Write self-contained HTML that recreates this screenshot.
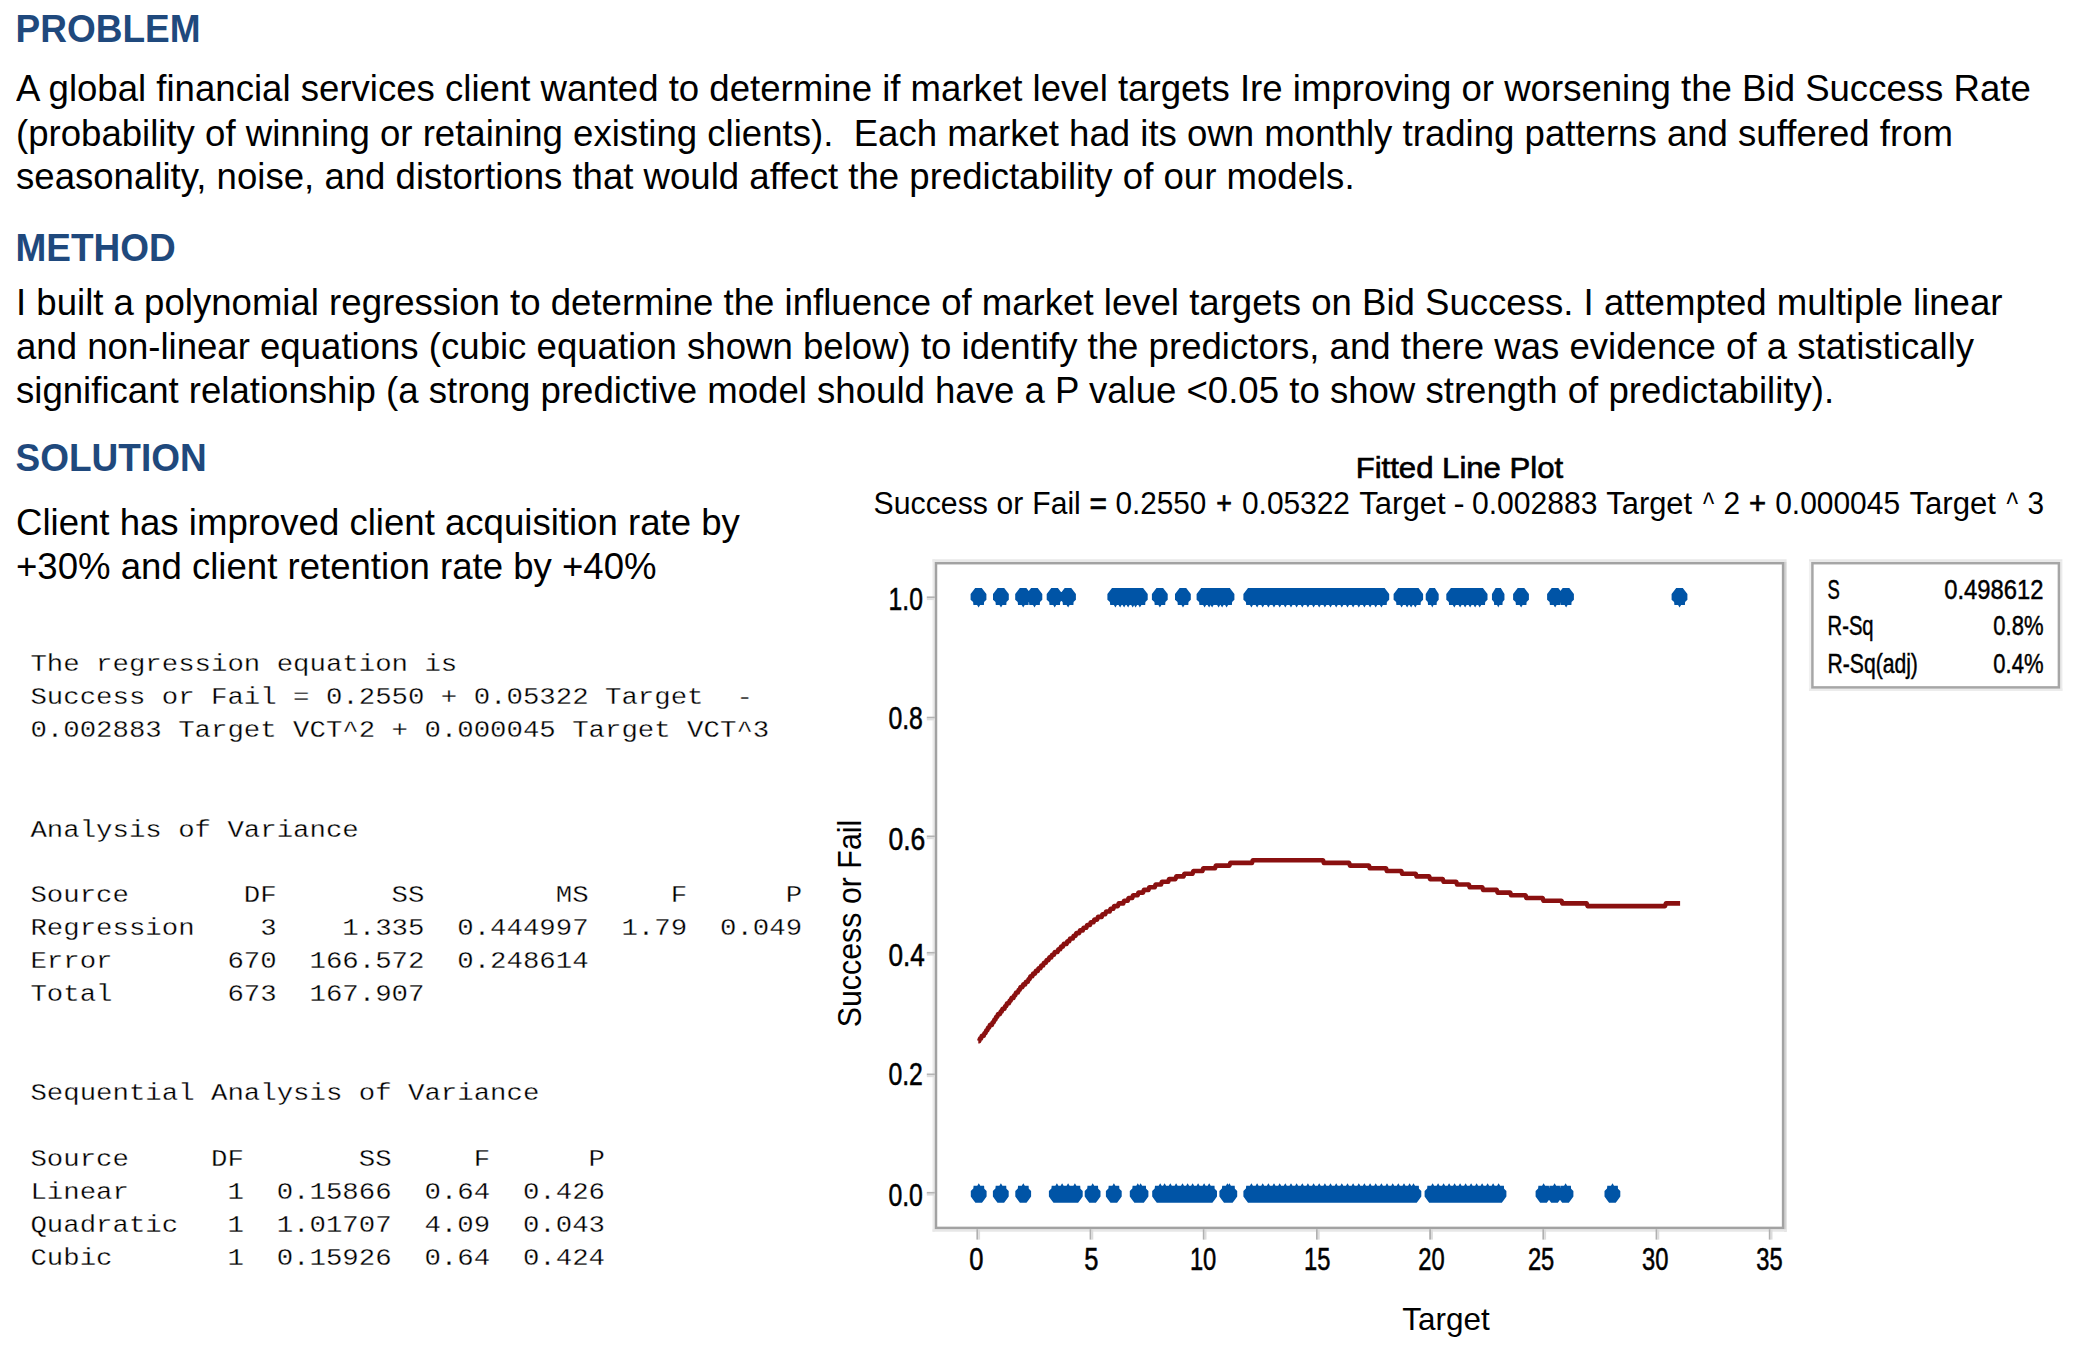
<!DOCTYPE html>
<html lang="en"><head><meta charset="utf-8"><title>Polynomial regression case study</title>
<style>
html,body{margin:0;padding:0;background:#fff;}
body{width:2077px;height:1355px;position:relative;overflow:hidden;font-family:"Liberation Sans", sans-serif;color:#000;}
.b,.h,.m{position:absolute;white-space:pre;margin:0;}
.b{line-height:44px;font-family:"Liberation Sans", sans-serif;color:#000;}
.h{line-height:44px;font-family:"Liberation Sans", sans-serif;font-weight:bold;color:#1f497d;}
.m{line-height:33px;font-family:"Liberation Mono", monospace;color:#000;-webkit-text-stroke:0.32px #fff;}
svg text.t{font-family:"Liberation Sans", sans-serif;fill:#000;}
</style></head><body>
<svg width="2077" height="1355" viewBox="0 0 2077 1355" style="position:absolute;left:0;top:0">
<path d="M932.5,560.5H1786.6" stroke="#e8e8e8" stroke-width="2.5" fill="none"/>
<path d="M933.7,559.3V1231.7" stroke="#ebebeb" stroke-width="2.4" fill="none"/>
<path d="M1785.4,561.8V1231.7" stroke="#d3d3d3" stroke-width="2.4" fill="none"/>
<path d="M932.5,1230.5H1786.6" stroke="#e7e7e7" stroke-width="2.5" fill="none"/>
<rect x="936.0" y="563.2" width="847.1" height="664.7" fill="#fff" stroke="#a2a2a2" stroke-width="2.5"/>
<path d="M1809,560.5H2062.4" stroke="#e8e8e8" stroke-width="2.5" fill="none"/>
<path d="M1810.1,561.8V690.8" stroke="#f1f1f1" stroke-width="2.4" fill="none"/>
<path d="M2061.2,561.8V690.8" stroke="#ebebeb" stroke-width="2.4" fill="none"/>
<path d="M1809,689.7H2062.4" stroke="#ececec" stroke-width="2.4" fill="none"/>
<rect x="1812.4" y="563.2" width="246.5" height="124.2" fill="#fff" stroke="#a6a6a6" stroke-width="2.5"/>
<rect x="926.8" y="596.4" width="8" height="1.8" fill="#b4b4b4"/>
<rect x="926.8" y="598.2" width="8" height="1.9" fill="#dedede"/>
<rect x="926.8" y="716.7" width="8" height="1.8" fill="#b4b4b4"/>
<rect x="926.8" y="718.5" width="8" height="1.9" fill="#dedede"/>
<rect x="926.8" y="835.5" width="8" height="1.8" fill="#b4b4b4"/>
<rect x="926.8" y="837.3" width="8" height="1.9" fill="#dedede"/>
<rect x="926.8" y="951.9" width="8" height="1.8" fill="#b4b4b4"/>
<rect x="926.8" y="953.7" width="8" height="1.9" fill="#dedede"/>
<rect x="926.8" y="1073.5" width="8" height="1.8" fill="#b4b4b4"/>
<rect x="926.8" y="1075.3" width="8" height="1.9" fill="#dedede"/>
<rect x="926.8" y="1191.9" width="8" height="1.8" fill="#b4b4b4"/>
<rect x="926.8" y="1193.7" width="8" height="1.9" fill="#dedede"/>
<rect x="976.4" y="1229.2" width="1.8" height="10.4" fill="#b0b0b0"/>
<rect x="978.2" y="1229.2" width="1.9" height="10.4" fill="#dcdcdc"/>
<rect x="1089.6" y="1229.2" width="1.8" height="10.4" fill="#b0b0b0"/>
<rect x="1091.4" y="1229.2" width="1.9" height="10.4" fill="#dcdcdc"/>
<rect x="1202.8" y="1229.2" width="1.8" height="10.4" fill="#b0b0b0"/>
<rect x="1204.6" y="1229.2" width="1.9" height="10.4" fill="#dcdcdc"/>
<rect x="1316.0" y="1229.2" width="1.8" height="10.4" fill="#b0b0b0"/>
<rect x="1317.8" y="1229.2" width="1.9" height="10.4" fill="#dcdcdc"/>
<rect x="1429.2" y="1229.2" width="1.8" height="10.4" fill="#b0b0b0"/>
<rect x="1431.0" y="1229.2" width="1.9" height="10.4" fill="#dcdcdc"/>
<rect x="1542.4" y="1229.2" width="1.8" height="10.4" fill="#b0b0b0"/>
<rect x="1544.2" y="1229.2" width="1.9" height="10.4" fill="#dcdcdc"/>
<rect x="1655.6" y="1229.2" width="1.8" height="10.4" fill="#b0b0b0"/>
<rect x="1657.4" y="1229.2" width="1.9" height="10.4" fill="#dcdcdc"/>
<rect x="1768.8" y="1229.2" width="1.8" height="10.4" fill="#b0b0b0"/>
<rect x="1770.6" y="1229.2" width="1.9" height="10.4" fill="#dcdcdc"/>
<text x="888.6" y="610.3" font-size="31.2" textLength="34.3" lengthAdjust="spacingAndGlyphs" class="t" stroke="#000" stroke-width="0.55">1.0</text>
<text x="888.4" y="729.0" font-size="31.2" textLength="34.5" lengthAdjust="spacingAndGlyphs" class="t" stroke="#000" stroke-width="0.55">0.8</text>
<text x="888.4" y="850.0" font-size="31.2" textLength="36.9" lengthAdjust="spacingAndGlyphs" class="t" stroke="#000" stroke-width="0.55">0.6</text>
<text x="888.4" y="966.4" font-size="31.2" textLength="36.3" lengthAdjust="spacingAndGlyphs" class="t" stroke="#000" stroke-width="0.55">0.4</text>
<text x="888.4" y="1084.7" font-size="31.2" textLength="34.5" lengthAdjust="spacingAndGlyphs" class="t" stroke="#000" stroke-width="0.55">0.2</text>
<text x="888.4" y="1205.8" font-size="31.2" textLength="34.5" lengthAdjust="spacingAndGlyphs" class="t" stroke="#000" stroke-width="0.55">0.0</text>
<text x="976.3" y="1270.3" font-size="31.2" text-anchor="middle" textLength="14.2" lengthAdjust="spacingAndGlyphs" class="t" stroke="#000" stroke-width="0.55">0</text>
<text x="1091.4" y="1270.3" font-size="31.2" text-anchor="middle" textLength="14.2" lengthAdjust="spacingAndGlyphs" class="t" stroke="#000" stroke-width="0.55">5</text>
<text x="1203.1" y="1270.3" font-size="31.2" text-anchor="middle" textLength="26.4" lengthAdjust="spacingAndGlyphs" class="t" stroke="#000" stroke-width="0.55">10</text>
<text x="1317.2" y="1270.3" font-size="31.2" text-anchor="middle" textLength="26.4" lengthAdjust="spacingAndGlyphs" class="t" stroke="#000" stroke-width="0.55">15</text>
<text x="1431.5" y="1270.3" font-size="31.2" text-anchor="middle" textLength="26.4" lengthAdjust="spacingAndGlyphs" class="t" stroke="#000" stroke-width="0.55">20</text>
<text x="1541.1" y="1270.3" font-size="31.2" text-anchor="middle" textLength="26.4" lengthAdjust="spacingAndGlyphs" class="t" stroke="#000" stroke-width="0.55">25</text>
<text x="1655.3" y="1270.3" font-size="31.2" text-anchor="middle" textLength="26.4" lengthAdjust="spacingAndGlyphs" class="t" stroke="#000" stroke-width="0.55">30</text>
<text x="1769.4" y="1270.3" font-size="31.2" text-anchor="middle" textLength="26.4" lengthAdjust="spacingAndGlyphs" class="t" stroke="#000" stroke-width="0.55">35</text>
<text x="1446" y="1330.2" font-size="32" text-anchor="middle" textLength="87.5" lengthAdjust="spacingAndGlyphs" class="t">Target</text>
<text transform="translate(861.0,923.5) rotate(-90)" font-size="32.6" text-anchor="middle" textLength="207.6" lengthAdjust="spacingAndGlyphs" class="t">Success or Fail</text>
<text x="1355.7" y="477.6" font-size="30.4" textLength="207.4" lengthAdjust="spacingAndGlyphs" class="t" stroke="#000" stroke-width="0.65">Fitted Line Plot</text>
<text y="514.3" font-size="31" class="t"><tspan x="873.6" textLength="114.3" lengthAdjust="spacingAndGlyphs">Success</tspan> <tspan x="996.6" textLength="26.7" lengthAdjust="spacingAndGlyphs">or</tspan> <tspan x="1032.3" textLength="48.5" lengthAdjust="spacingAndGlyphs">Fail</tspan> <tspan x="1089.4" textLength="17.5" lengthAdjust="spacingAndGlyphs" stroke="#000" stroke-width="0.7">=</tspan> <tspan x="1115.4" textLength="90.8" lengthAdjust="spacingAndGlyphs">0.2550</tspan> <tspan x="1216.3" textLength="15.7" lengthAdjust="spacingAndGlyphs" stroke="#000" stroke-width="0.7">+</tspan> <tspan x="1242.0" textLength="107.9" lengthAdjust="spacingAndGlyphs">0.05322</tspan> <tspan x="1359.3" textLength="86.3" lengthAdjust="spacingAndGlyphs">Target</tspan> <tspan x="1453.6" textLength="11.1" lengthAdjust="spacingAndGlyphs">-</tspan> <tspan x="1472.0" textLength="125.5" lengthAdjust="spacingAndGlyphs">0.002883</tspan> <tspan x="1606.3" textLength="85.8" lengthAdjust="spacingAndGlyphs">Target</tspan> <tspan x="1703.1" textLength="11.2" lengthAdjust="spacingAndGlyphs">^</tspan> <tspan x="1723.6" textLength="16.6" lengthAdjust="spacingAndGlyphs">2</tspan> <tspan x="1749.1" textLength="17.1" lengthAdjust="spacingAndGlyphs" stroke="#000" stroke-width="0.7">+</tspan> <tspan x="1775.2" textLength="124.9" lengthAdjust="spacingAndGlyphs">0.000045</tspan> <tspan x="1909.5" textLength="86.4" lengthAdjust="spacingAndGlyphs">Target</tspan> <tspan x="2006.5" textLength="11.6" lengthAdjust="spacingAndGlyphs">^</tspan> <tspan x="2027.4" textLength="16.6" lengthAdjust="spacingAndGlyphs">3</tspan></text>
<text x="1827.6" y="599.4" font-size="26.9" textLength="12.3" lengthAdjust="spacingAndGlyphs" class="t" stroke="#000" stroke-width="0.45">S</text>
<text x="1944.2" y="599.4" font-size="26.9" textLength="99.3" lengthAdjust="spacingAndGlyphs" class="t" stroke="#000" stroke-width="0.45">0.498612</text>
<text x="1827.6" y="634.5" font-size="26.9" textLength="46.0" lengthAdjust="spacingAndGlyphs" class="t" stroke="#000" stroke-width="0.45">R-Sq</text>
<text x="1993.3" y="634.5" font-size="26.9" textLength="50.2" lengthAdjust="spacingAndGlyphs" class="t" stroke="#000" stroke-width="0.45">0.8%</text>
<text x="1827.6" y="672.5" font-size="26.9" textLength="90.3" lengthAdjust="spacingAndGlyphs" class="t" stroke="#000" stroke-width="0.45">R-Sq(adj)</text>
<text x="1993.3" y="672.5" font-size="26.9" textLength="50.2" lengthAdjust="spacingAndGlyphs" class="t" stroke="#000" stroke-width="0.45">0.4%</text>
<polyline points="978.3,1041.1 979.2,1041.1 980.1,1038.4 981.0,1038.4 981.9,1035.7 983.7,1035.7 984.6,1033.0 985.5,1033.0 986.4,1030.3 987.3,1030.3 988.2,1027.6 989.1,1027.6 990.0,1024.9 991.8,1024.9 992.7,1022.2 993.6,1022.2 994.5,1019.5 995.4,1019.5 996.3,1016.8 997.2,1016.8 998.1,1014.1 999.9,1014.1 1000.8,1011.4 1001.7,1011.4 1002.6,1008.7 1004.4,1008.7 1005.3,1006.0 1006.2,1006.0 1007.1,1003.3 1008.9,1003.3 1009.8,1000.6 1010.7,1000.6 1011.6,997.9 1013.4,997.9 1014.3,995.2 1015.2,995.2 1016.1,992.5 1017.9,992.5 1018.8,989.8 1019.7,989.8 1020.6,987.1 1022.4,987.1 1023.3,984.4 1025.1,984.4 1026.0,981.7 1027.8,981.7 1028.7,979.0 1029.6,979.0 1030.5,976.3 1032.3,976.3 1033.2,973.6 1035.0,973.6 1035.9,970.9 1037.7,970.9 1038.6,968.2 1040.4,968.2 1041.3,965.5 1043.1,965.5 1044.0,962.8 1045.8,962.8 1046.7,960.1 1048.5,960.1 1049.4,957.4 1051.2,957.4 1052.1,954.7 1053.9,954.7 1054.8,952.0 1057.5,952.0 1058.4,949.3 1060.2,949.3 1061.1,946.6 1062.9,946.6 1063.8,943.9 1066.5,943.9 1067.4,941.2 1069.2,941.2 1070.1,938.5 1072.8,938.5 1073.7,935.8 1075.5,935.8 1076.4,933.1 1079.1,933.1 1080.0,930.4 1082.7,930.4 1083.6,927.7 1086.3,927.7 1087.2,925.0 1089.9,925.0 1090.8,922.3 1093.5,922.3 1094.4,919.6 1097.1,919.6 1098.0,916.9 1101.6,916.9 1102.5,914.2 1105.2,914.2 1106.1,911.5 1109.7,911.5 1110.6,908.8 1113.3,908.8 1114.2,906.1 1117.8,906.1 1118.7,903.4 1123.2,903.4 1124.1,900.7 1127.7,900.7 1128.6,898.0 1132.2,898.0 1133.1,895.3 1137.6,895.3 1138.5,892.6 1143.0,892.6 1143.9,889.9 1148.4,889.9 1149.3,887.2 1154.7,887.2 1155.6,884.5 1161.0,884.5 1161.9,881.8 1168.2,881.8 1169.1,879.1 1175.4,879.1 1176.3,876.4 1183.5,876.4 1184.4,873.7 1192.5,873.7 1193.4,871.0 1202.4,871.0 1203.3,868.3 1215.0,868.3 1215.9,865.6 1229.4,865.6 1230.3,862.9 1251.9,862.9 1252.8,860.2 1323.0,860.2 1323.9,862.9 1349.1,862.9 1350.0,865.6 1368.9,865.6 1369.8,868.3 1386.0,868.3 1386.9,871.0 1401.3,871.0 1402.2,873.7 1415.7,873.7 1416.6,876.4 1429.2,876.4 1430.1,879.1 1442.7,879.1 1443.6,881.8 1456.2,881.8 1457.1,884.5 1468.8,884.5 1469.7,887.2 1482.3,887.2 1483.2,889.9 1496.7,889.9 1497.6,892.6 1510.2,892.6 1511.1,895.3 1525.5,895.3 1526.4,898.0 1542.6,898.0 1543.5,900.7 1561.5,900.7 1562.4,903.4 1586.7,903.4 1587.6,906.1 1665.0,906.1 1665.9,903.4 1680.1,903.4" fill="none" stroke="#8a1010" stroke-width="4.6" stroke-linejoin="round" stroke-linecap="butt"/>
<path d="M975.2,588.0h6.60l2.10,2.7l2.50,3.4v5.6l-2.30,2.2l-0.20,3.1h-3.80l-1.50,2.5l-1.50,-2.5h-3.70l-0.30,-2.9l-2.50,-2.4v-5.6l2.50,-3.4zM997.6,588.0h6.60l2.10,2.7l2.50,3.4v5.6l-2.30,2.2l-0.20,3.1h-3.80l-1.50,2.5l-1.50,-2.5h-3.70l-0.30,-2.9l-2.50,-2.4v-5.6l2.50,-3.4zM1019.8,588.0h6.60l2.10,2.7l2.50,3.4v5.6l-2.30,2.2l-0.20,3.1h-3.80l-1.50,2.5l-1.50,-2.5h-3.70l-0.30,-2.9l-2.50,-2.4v-5.6l2.50,-3.4zM1031.1,588.0h6.60l2.10,2.7l2.50,3.4v5.6l-2.30,2.2l-0.20,3.1h-3.80l-1.50,2.5l-1.50,-2.5h-3.70l-0.30,-2.9l-2.50,-2.4v-5.6l2.50,-3.4zM1051.3,588.0h6.60l2.10,2.7l2.50,3.4v5.6l-2.30,2.2l-0.20,3.1h-3.80l-1.50,2.5l-1.50,-2.5h-3.70l-0.30,-2.9l-2.50,-2.4v-5.6l2.50,-3.4zM1064.7,588.0h6.60l2.10,2.7l2.50,3.4v5.6l-2.30,2.2l-0.20,3.1h-3.80l-1.50,2.5l-1.50,-2.5h-3.70l-0.30,-2.9l-2.50,-2.4v-5.6l2.50,-3.4zM1112.0,588.0h6.60l2.10,2.7l2.50,3.4v5.6l-2.30,2.2l-0.20,3.1h-3.80l-1.50,2.5l-1.50,-2.5h-3.70l-0.30,-2.9l-2.50,-2.4v-5.6l2.50,-3.4zM1116.7,588.0h6.60l2.10,2.7l2.50,3.4v5.6l-2.30,2.2l-0.20,3.1h-3.80l-1.50,2.5l-1.50,-2.5h-3.70l-0.30,-2.9l-2.50,-2.4v-5.6l2.50,-3.4zM1120.7,588.0h6.60l2.10,2.7l2.50,3.4v5.6l-2.30,2.2l-0.20,3.1h-3.80l-1.50,2.5l-1.50,-2.5h-3.70l-0.30,-2.9l-2.50,-2.4v-5.6l2.50,-3.4zM1124.7,588.0h6.60l2.10,2.7l2.50,3.4v5.6l-2.30,2.2l-0.20,3.1h-3.80l-1.50,2.5l-1.50,-2.5h-3.70l-0.30,-2.9l-2.50,-2.4v-5.6l2.50,-3.4zM1129.3,588.0h6.60l2.10,2.7l2.50,3.4v5.6l-2.30,2.2l-0.20,3.1h-3.80l-1.50,2.5l-1.50,-2.5h-3.70l-0.30,-2.9l-2.50,-2.4v-5.6l2.50,-3.4zM1132.2,588.0h6.60l2.10,2.7l2.50,3.4v5.6l-2.30,2.2l-0.20,3.1h-3.80l-1.50,2.5l-1.50,-2.5h-3.70l-0.30,-2.9l-2.50,-2.4v-5.6l2.50,-3.4zM1136.5,588.0h6.60l2.10,2.7l2.50,3.4v5.6l-2.30,2.2l-0.20,3.1h-3.80l-1.50,2.5l-1.50,-2.5h-3.70l-0.30,-2.9l-2.50,-2.4v-5.6l2.50,-3.4zM1156.5,588.0h6.60l2.10,2.7l2.50,3.4v5.6l-2.30,2.2l-0.20,3.1h-3.80l-1.50,2.5l-1.50,-2.5h-3.70l-0.30,-2.9l-2.50,-2.4v-5.6l2.50,-3.4zM1179.6,588.0h6.60l2.10,2.7l2.50,3.4v5.6l-2.30,2.2l-0.20,3.1h-3.80l-1.50,2.5l-1.50,-2.5h-3.70l-0.30,-2.9l-2.50,-2.4v-5.6l2.50,-3.4zM1201.2,588.0h6.60l2.10,2.7l2.50,3.4v5.6l-2.30,2.2l-0.20,3.1h-3.80l-1.50,2.5l-1.50,-2.5h-3.70l-0.30,-2.9l-2.50,-2.4v-5.6l2.50,-3.4zM1205.7,588.0h6.60l2.10,2.7l2.50,3.4v5.6l-2.30,2.2l-0.20,3.1h-3.80l-1.50,2.5l-1.50,-2.5h-3.70l-0.30,-2.9l-2.50,-2.4v-5.6l2.50,-3.4zM1208.7,588.0h6.60l2.10,2.7l2.50,3.4v5.6l-2.30,2.2l-0.20,3.1h-3.80l-1.50,2.5l-1.50,-2.5h-3.70l-0.30,-2.9l-2.50,-2.4v-5.6l2.50,-3.4zM1215.2,588.0h6.60l2.10,2.7l2.50,3.4v5.6l-2.30,2.2l-0.20,3.1h-3.80l-1.50,2.5l-1.50,-2.5h-3.70l-0.30,-2.9l-2.50,-2.4v-5.6l2.50,-3.4zM1218.7,588.0h6.60l2.10,2.7l2.50,3.4v5.6l-2.30,2.2l-0.20,3.1h-3.80l-1.50,2.5l-1.50,-2.5h-3.70l-0.30,-2.9l-2.50,-2.4v-5.6l2.50,-3.4zM1223.2,588.0h6.60l2.10,2.7l2.50,3.4v5.6l-2.30,2.2l-0.20,3.1h-3.80l-1.50,2.5l-1.50,-2.5h-3.70l-0.30,-2.9l-2.50,-2.4v-5.6l2.50,-3.4zM1248.0,588.0h6.60l2.10,2.7l2.50,3.4v5.6l-2.30,2.2l-0.20,3.1h-3.80l-1.50,2.5l-1.50,-2.5h-3.70l-0.30,-2.9l-2.50,-2.4v-5.6l2.50,-3.4zM1253.7,588.0h6.60l2.10,2.7l2.50,3.4v5.6l-2.30,2.2l-0.20,3.1h-3.80l-1.50,2.5l-1.50,-2.5h-3.70l-0.30,-2.9l-2.50,-2.4v-5.6l2.50,-3.4zM1259.3,588.0h6.60l2.10,2.7l2.50,3.4v5.6l-2.30,2.2l-0.20,3.1h-3.80l-1.50,2.5l-1.50,-2.5h-3.70l-0.30,-2.9l-2.50,-2.4v-5.6l2.50,-3.4zM1265.0,588.0h6.60l2.10,2.7l2.50,3.4v5.6l-2.30,2.2l-0.20,3.1h-3.80l-1.50,2.5l-1.50,-2.5h-3.70l-0.30,-2.9l-2.50,-2.4v-5.6l2.50,-3.4zM1270.6,588.0h6.60l2.10,2.7l2.50,3.4v5.6l-2.30,2.2l-0.20,3.1h-3.80l-1.50,2.5l-1.50,-2.5h-3.70l-0.30,-2.9l-2.50,-2.4v-5.6l2.50,-3.4zM1276.3,588.0h6.60l2.10,2.7l2.50,3.4v5.6l-2.30,2.2l-0.20,3.1h-3.80l-1.50,2.5l-1.50,-2.5h-3.70l-0.30,-2.9l-2.50,-2.4v-5.6l2.50,-3.4zM1281.9,588.0h6.60l2.10,2.7l2.50,3.4v5.6l-2.30,2.2l-0.20,3.1h-3.80l-1.50,2.5l-1.50,-2.5h-3.70l-0.30,-2.9l-2.50,-2.4v-5.6l2.50,-3.4zM1287.6,588.0h6.60l2.10,2.7l2.50,3.4v5.6l-2.30,2.2l-0.20,3.1h-3.80l-1.50,2.5l-1.50,-2.5h-3.70l-0.30,-2.9l-2.50,-2.4v-5.6l2.50,-3.4zM1293.2,588.0h6.60l2.10,2.7l2.50,3.4v5.6l-2.30,2.2l-0.20,3.1h-3.80l-1.50,2.5l-1.50,-2.5h-3.70l-0.30,-2.9l-2.50,-2.4v-5.6l2.50,-3.4zM1298.9,588.0h6.60l2.10,2.7l2.50,3.4v5.6l-2.30,2.2l-0.20,3.1h-3.80l-1.50,2.5l-1.50,-2.5h-3.70l-0.30,-2.9l-2.50,-2.4v-5.6l2.50,-3.4zM1304.5,588.0h6.60l2.10,2.7l2.50,3.4v5.6l-2.30,2.2l-0.20,3.1h-3.80l-1.50,2.5l-1.50,-2.5h-3.70l-0.30,-2.9l-2.50,-2.4v-5.6l2.50,-3.4zM1310.2,588.0h6.60l2.10,2.7l2.50,3.4v5.6l-2.30,2.2l-0.20,3.1h-3.80l-1.50,2.5l-1.50,-2.5h-3.70l-0.30,-2.9l-2.50,-2.4v-5.6l2.50,-3.4zM1315.8,588.0h6.60l2.10,2.7l2.50,3.4v5.6l-2.30,2.2l-0.20,3.1h-3.80l-1.50,2.5l-1.50,-2.5h-3.70l-0.30,-2.9l-2.50,-2.4v-5.6l2.50,-3.4zM1321.5,588.0h6.60l2.10,2.7l2.50,3.4v5.6l-2.30,2.2l-0.20,3.1h-3.80l-1.50,2.5l-1.50,-2.5h-3.70l-0.30,-2.9l-2.50,-2.4v-5.6l2.50,-3.4zM1327.1,588.0h6.60l2.10,2.7l2.50,3.4v5.6l-2.30,2.2l-0.20,3.1h-3.80l-1.50,2.5l-1.50,-2.5h-3.70l-0.30,-2.9l-2.50,-2.4v-5.6l2.50,-3.4zM1332.8,588.0h6.60l2.10,2.7l2.50,3.4v5.6l-2.30,2.2l-0.20,3.1h-3.80l-1.50,2.5l-1.50,-2.5h-3.70l-0.30,-2.9l-2.50,-2.4v-5.6l2.50,-3.4zM1338.4,588.0h6.60l2.10,2.7l2.50,3.4v5.6l-2.30,2.2l-0.20,3.1h-3.80l-1.50,2.5l-1.50,-2.5h-3.70l-0.30,-2.9l-2.50,-2.4v-5.6l2.50,-3.4zM1344.1,588.0h6.60l2.10,2.7l2.50,3.4v5.6l-2.30,2.2l-0.20,3.1h-3.80l-1.50,2.5l-1.50,-2.5h-3.70l-0.30,-2.9l-2.50,-2.4v-5.6l2.50,-3.4zM1349.7,588.0h6.60l2.10,2.7l2.50,3.4v5.6l-2.30,2.2l-0.20,3.1h-3.80l-1.50,2.5l-1.50,-2.5h-3.70l-0.30,-2.9l-2.50,-2.4v-5.6l2.50,-3.4zM1355.4,588.0h6.60l2.10,2.7l2.50,3.4v5.6l-2.30,2.2l-0.20,3.1h-3.80l-1.50,2.5l-1.50,-2.5h-3.70l-0.30,-2.9l-2.50,-2.4v-5.6l2.50,-3.4zM1361.0,588.0h6.60l2.10,2.7l2.50,3.4v5.6l-2.30,2.2l-0.20,3.1h-3.80l-1.50,2.5l-1.50,-2.5h-3.70l-0.30,-2.9l-2.50,-2.4v-5.6l2.50,-3.4zM1366.7,588.0h6.60l2.10,2.7l2.50,3.4v5.6l-2.30,2.2l-0.20,3.1h-3.80l-1.50,2.5l-1.50,-2.5h-3.70l-0.30,-2.9l-2.50,-2.4v-5.6l2.50,-3.4zM1372.3,588.0h6.60l2.10,2.7l2.50,3.4v5.6l-2.30,2.2l-0.20,3.1h-3.80l-1.50,2.5l-1.50,-2.5h-3.70l-0.30,-2.9l-2.50,-2.4v-5.6l2.50,-3.4zM1378.0,588.0h6.60l2.10,2.7l2.50,3.4v5.6l-2.30,2.2l-0.20,3.1h-3.80l-1.50,2.5l-1.50,-2.5h-3.70l-0.30,-2.9l-2.50,-2.4v-5.6l2.50,-3.4zM1398.2,588.0h6.60l2.10,2.7l2.50,3.4v5.6l-2.30,2.2l-0.20,3.1h-3.80l-1.50,2.5l-1.50,-2.5h-3.70l-0.30,-2.9l-2.50,-2.4v-5.6l2.50,-3.4zM1403.7,588.0h6.60l2.10,2.7l2.50,3.4v5.6l-2.30,2.2l-0.20,3.1h-3.80l-1.50,2.5l-1.50,-2.5h-3.70l-0.30,-2.9l-2.50,-2.4v-5.6l2.50,-3.4zM1407.7,588.0h6.60l2.10,2.7l2.50,3.4v5.6l-2.30,2.2l-0.20,3.1h-3.80l-1.50,2.5l-1.50,-2.5h-3.70l-0.30,-2.9l-2.50,-2.4v-5.6l2.50,-3.4zM1411.9,588.0h6.60l2.10,2.7l2.50,3.4v5.6l-2.30,2.2l-0.20,3.1h-3.80l-1.50,2.5l-1.50,-2.5h-3.70l-0.30,-2.9l-2.50,-2.4v-5.6l2.50,-3.4zM1429.5,588.0h5.41l1.72,2.7l2.05,3.4v5.6l-1.89,2.2l-0.16,3.1h-3.12l-1.23,2.5l-1.23,-2.5h-3.03l-0.25,-2.9l-2.05,-2.4v-5.6l2.05,-3.4zM1450.9,588.0h6.60l2.10,2.7l2.50,3.4v5.6l-2.30,2.2l-0.20,3.1h-3.80l-1.50,2.5l-1.50,-2.5h-3.70l-0.30,-2.9l-2.50,-2.4v-5.6l2.50,-3.4zM1456.7,588.0h6.60l2.10,2.7l2.50,3.4v5.6l-2.30,2.2l-0.20,3.1h-3.80l-1.50,2.5l-1.50,-2.5h-3.70l-0.30,-2.9l-2.50,-2.4v-5.6l2.50,-3.4zM1461.7,588.0h6.60l2.10,2.7l2.50,3.4v5.6l-2.30,2.2l-0.20,3.1h-3.80l-1.50,2.5l-1.50,-2.5h-3.70l-0.30,-2.9l-2.50,-2.4v-5.6l2.50,-3.4zM1466.7,588.0h6.60l2.10,2.7l2.50,3.4v5.6l-2.30,2.2l-0.20,3.1h-3.80l-1.50,2.5l-1.50,-2.5h-3.70l-0.30,-2.9l-2.50,-2.4v-5.6l2.50,-3.4zM1471.7,588.0h6.60l2.10,2.7l2.50,3.4v5.6l-2.30,2.2l-0.20,3.1h-3.80l-1.50,2.5l-1.50,-2.5h-3.70l-0.30,-2.9l-2.50,-2.4v-5.6l2.50,-3.4zM1476.3,588.0h6.60l2.10,2.7l2.50,3.4v5.6l-2.30,2.2l-0.20,3.1h-3.80l-1.50,2.5l-1.50,-2.5h-3.70l-0.30,-2.9l-2.50,-2.4v-5.6l2.50,-3.4zM1495.6,588.0h5.21l1.66,2.7l1.98,3.4v5.6l-1.82,2.2l-0.16,3.1h-3.00l-1.19,2.5l-1.19,-2.5h-2.92l-0.24,-2.9l-1.98,-2.4v-5.6l1.98,-3.4zM1517.7,588.0h6.60l2.10,2.7l2.50,3.4v5.6l-2.30,2.2l-0.20,3.1h-3.80l-1.50,2.5l-1.50,-2.5h-3.70l-0.30,-2.9l-2.50,-2.4v-5.6l2.50,-3.4zM1551.7,588.0h6.60l2.10,2.7l2.50,3.4v5.6l-2.30,2.2l-0.20,3.1h-3.80l-1.50,2.5l-1.50,-2.5h-3.70l-0.30,-2.9l-2.50,-2.4v-5.6l2.50,-3.4zM1562.7,588.0h6.60l2.10,2.7l2.50,3.4v5.6l-2.30,2.2l-0.20,3.1h-3.80l-1.50,2.5l-1.50,-2.5h-3.70l-0.30,-2.9l-2.50,-2.4v-5.6l2.50,-3.4zM1676.2,588.0h6.60l2.10,2.7l2.50,3.4v5.6l-2.30,2.2l-0.20,3.1h-3.80l-1.50,2.5l-1.50,-2.5h-3.70l-0.30,-2.9l-2.50,-2.4v-5.6l2.50,-3.4z" fill="#0054a6"/>
<path d="M975.4,1202.7h6.60l2.10,-2.7l2.50,-3.4v-5.6l-2.30,-2.2l-0.20,-3.1h-3.80l-1.50,-2.5l-1.50,2.5h-3.70l-0.30,2.9l-2.50,2.4v5.6l2.50,3.4zM997.5,1202.7h6.60l2.10,-2.7l2.50,-3.4v-5.6l-2.30,-2.2l-0.20,-3.1h-3.80l-1.50,-2.5l-1.50,2.5h-3.70l-0.30,2.9l-2.50,2.4v5.6l2.50,3.4zM1019.9,1202.7h6.60l2.10,-2.7l2.50,-3.4v-5.6l-2.30,-2.2l-0.20,-3.1h-3.80l-1.50,-2.5l-1.50,2.5h-3.70l-0.30,2.9l-2.50,2.4v5.6l2.50,3.4zM1053.5,1202.7h6.60l2.10,-2.7l2.50,-3.4v-5.6l-2.30,-2.2l-0.20,-3.1h-3.80l-1.50,-2.5l-1.50,2.5h-3.70l-0.30,2.9l-2.50,2.4v5.6l2.50,3.4zM1058.7,1202.7h6.60l2.10,-2.7l2.50,-3.4v-5.6l-2.30,-2.2l-0.20,-3.1h-3.80l-1.50,-2.5l-1.50,2.5h-3.70l-0.30,2.9l-2.50,2.4v5.6l2.50,3.4zM1064.7,1202.7h6.60l2.10,-2.7l2.50,-3.4v-5.6l-2.30,-2.2l-0.20,-3.1h-3.80l-1.50,-2.5l-1.50,2.5h-3.70l-0.30,2.9l-2.50,2.4v5.6l2.50,3.4zM1071.5,1202.7h6.60l2.10,-2.7l2.50,-3.4v-5.6l-2.30,-2.2l-0.20,-3.1h-3.80l-1.50,-2.5l-1.50,2.5h-3.70l-0.30,2.9l-2.50,2.4v5.6l2.50,3.4zM1089.3,1202.7h6.60l2.10,-2.7l2.50,-3.4v-5.6l-2.30,-2.2l-0.20,-3.1h-3.80l-1.50,-2.5l-1.50,2.5h-3.70l-0.30,2.9l-2.50,2.4v5.6l2.50,3.4zM1110.5,1202.7h6.60l2.10,-2.7l2.50,-3.4v-5.6l-2.30,-2.2l-0.20,-3.1h-3.80l-1.50,-2.5l-1.50,2.5h-3.70l-0.30,2.9l-2.50,2.4v5.6l2.50,3.4zM1134.4,1202.7h6.60l2.10,-2.7l2.50,-3.4v-5.6l-2.30,-2.2l-0.20,-3.1h-3.80l-1.50,-2.5l-1.50,2.5h-3.70l-0.30,2.9l-2.50,2.4v5.6l2.50,3.4zM1137.2,1202.7h6.60l2.10,-2.7l2.50,-3.4v-5.6l-2.30,-2.2l-0.20,-3.1h-3.80l-1.50,-2.5l-1.50,2.5h-3.70l-0.30,2.9l-2.50,2.4v5.6l2.50,3.4zM1156.8,1202.7h6.60l2.10,-2.7l2.50,-3.4v-5.6l-2.30,-2.2l-0.20,-3.1h-3.80l-1.50,-2.5l-1.50,2.5h-3.70l-0.30,2.9l-2.50,2.4v5.6l2.50,3.4zM1161.2,1202.7h6.60l2.10,-2.7l2.50,-3.4v-5.6l-2.30,-2.2l-0.20,-3.1h-3.80l-1.50,-2.5l-1.50,2.5h-3.70l-0.30,2.9l-2.50,2.4v5.6l2.50,3.4zM1166.9,1202.7h6.60l2.10,-2.7l2.50,-3.4v-5.6l-2.30,-2.2l-0.20,-3.1h-3.80l-1.50,-2.5l-1.50,2.5h-3.70l-0.30,2.9l-2.50,2.4v5.6l2.50,3.4zM1172.7,1202.7h6.60l2.10,-2.7l2.50,-3.4v-5.6l-2.30,-2.2l-0.20,-3.1h-3.80l-1.50,-2.5l-1.50,2.5h-3.70l-0.30,2.9l-2.50,2.4v5.6l2.50,3.4zM1179.1,1202.7h6.60l2.10,-2.7l2.50,-3.4v-5.6l-2.30,-2.2l-0.20,-3.1h-3.80l-1.50,-2.5l-1.50,2.5h-3.70l-0.30,2.9l-2.50,2.4v5.6l2.50,3.4zM1184.2,1202.7h6.60l2.10,-2.7l2.50,-3.4v-5.6l-2.30,-2.2l-0.20,-3.1h-3.80l-1.50,-2.5l-1.50,2.5h-3.70l-0.30,2.9l-2.50,2.4v5.6l2.50,3.4zM1189.2,1202.7h6.60l2.10,-2.7l2.50,-3.4v-5.6l-2.30,-2.2l-0.20,-3.1h-3.80l-1.50,-2.5l-1.50,2.5h-3.70l-0.30,2.9l-2.50,2.4v5.6l2.50,3.4zM1194.7,1202.7h6.60l2.10,-2.7l2.50,-3.4v-5.6l-2.30,-2.2l-0.20,-3.1h-3.80l-1.50,-2.5l-1.50,2.5h-3.70l-0.30,2.9l-2.50,2.4v5.6l2.50,3.4zM1200.7,1202.7h6.60l2.10,-2.7l2.50,-3.4v-5.6l-2.30,-2.2l-0.20,-3.1h-3.80l-1.50,-2.5l-1.50,2.5h-3.70l-0.30,2.9l-2.50,2.4v5.6l2.50,3.4zM1205.8,1202.7h6.60l2.10,-2.7l2.50,-3.4v-5.6l-2.30,-2.2l-0.20,-3.1h-3.80l-1.50,-2.5l-1.50,2.5h-3.70l-0.30,2.9l-2.50,2.4v5.6l2.50,3.4zM1224.0,1202.7h6.60l2.10,-2.7l2.50,-3.4v-5.6l-2.30,-2.2l-0.20,-3.1h-3.80l-1.50,-2.5l-1.50,2.5h-3.70l-0.30,2.9l-2.50,2.4v5.6l2.50,3.4zM1226.0,1202.7h6.60l2.10,-2.7l2.50,-3.4v-5.6l-2.30,-2.2l-0.20,-3.1h-3.80l-1.50,-2.5l-1.50,2.5h-3.70l-0.30,2.9l-2.50,2.4v5.6l2.50,3.4zM1248.0,1202.7h6.60l2.10,-2.7l2.50,-3.4v-5.6l-2.30,-2.2l-0.20,-3.1h-3.80l-1.50,-2.5l-1.50,2.5h-3.70l-0.30,2.9l-2.50,2.4v5.6l2.50,3.4zM1253.7,1202.7h6.60l2.10,-2.7l2.50,-3.4v-5.6l-2.30,-2.2l-0.20,-3.1h-3.80l-1.50,-2.5l-1.50,2.5h-3.70l-0.30,2.9l-2.50,2.4v5.6l2.50,3.4zM1259.3,1202.7h6.60l2.10,-2.7l2.50,-3.4v-5.6l-2.30,-2.2l-0.20,-3.1h-3.80l-1.50,-2.5l-1.50,2.5h-3.70l-0.30,2.9l-2.50,2.4v5.6l2.50,3.4zM1265.0,1202.7h6.60l2.10,-2.7l2.50,-3.4v-5.6l-2.30,-2.2l-0.20,-3.1h-3.80l-1.50,-2.5l-1.50,2.5h-3.70l-0.30,2.9l-2.50,2.4v5.6l2.50,3.4zM1270.6,1202.7h6.60l2.10,-2.7l2.50,-3.4v-5.6l-2.30,-2.2l-0.20,-3.1h-3.80l-1.50,-2.5l-1.50,2.5h-3.70l-0.30,2.9l-2.50,2.4v5.6l2.50,3.4zM1276.3,1202.7h6.60l2.10,-2.7l2.50,-3.4v-5.6l-2.30,-2.2l-0.20,-3.1h-3.80l-1.50,-2.5l-1.50,2.5h-3.70l-0.30,2.9l-2.50,2.4v5.6l2.50,3.4zM1281.9,1202.7h6.60l2.10,-2.7l2.50,-3.4v-5.6l-2.30,-2.2l-0.20,-3.1h-3.80l-1.50,-2.5l-1.50,2.5h-3.70l-0.30,2.9l-2.50,2.4v5.6l2.50,3.4zM1287.6,1202.7h6.60l2.10,-2.7l2.50,-3.4v-5.6l-2.30,-2.2l-0.20,-3.1h-3.80l-1.50,-2.5l-1.50,2.5h-3.70l-0.30,2.9l-2.50,2.4v5.6l2.50,3.4zM1293.2,1202.7h6.60l2.10,-2.7l2.50,-3.4v-5.6l-2.30,-2.2l-0.20,-3.1h-3.80l-1.50,-2.5l-1.50,2.5h-3.70l-0.30,2.9l-2.50,2.4v5.6l2.50,3.4zM1298.9,1202.7h6.60l2.10,-2.7l2.50,-3.4v-5.6l-2.30,-2.2l-0.20,-3.1h-3.80l-1.50,-2.5l-1.50,2.5h-3.70l-0.30,2.9l-2.50,2.4v5.6l2.50,3.4zM1304.5,1202.7h6.60l2.10,-2.7l2.50,-3.4v-5.6l-2.30,-2.2l-0.20,-3.1h-3.80l-1.50,-2.5l-1.50,2.5h-3.70l-0.30,2.9l-2.50,2.4v5.6l2.50,3.4zM1310.2,1202.7h6.60l2.10,-2.7l2.50,-3.4v-5.6l-2.30,-2.2l-0.20,-3.1h-3.80l-1.50,-2.5l-1.50,2.5h-3.70l-0.30,2.9l-2.50,2.4v5.6l2.50,3.4zM1315.8,1202.7h6.60l2.10,-2.7l2.50,-3.4v-5.6l-2.30,-2.2l-0.20,-3.1h-3.80l-1.50,-2.5l-1.50,2.5h-3.70l-0.30,2.9l-2.50,2.4v5.6l2.50,3.4zM1321.5,1202.7h6.60l2.10,-2.7l2.50,-3.4v-5.6l-2.30,-2.2l-0.20,-3.1h-3.80l-1.50,-2.5l-1.50,2.5h-3.70l-0.30,2.9l-2.50,2.4v5.6l2.50,3.4zM1327.1,1202.7h6.60l2.10,-2.7l2.50,-3.4v-5.6l-2.30,-2.2l-0.20,-3.1h-3.80l-1.50,-2.5l-1.50,2.5h-3.70l-0.30,2.9l-2.50,2.4v5.6l2.50,3.4zM1332.8,1202.7h6.60l2.10,-2.7l2.50,-3.4v-5.6l-2.30,-2.2l-0.20,-3.1h-3.80l-1.50,-2.5l-1.50,2.5h-3.70l-0.30,2.9l-2.50,2.4v5.6l2.50,3.4zM1338.4,1202.7h6.60l2.10,-2.7l2.50,-3.4v-5.6l-2.30,-2.2l-0.20,-3.1h-3.80l-1.50,-2.5l-1.50,2.5h-3.70l-0.30,2.9l-2.50,2.4v5.6l2.50,3.4zM1344.1,1202.7h6.60l2.10,-2.7l2.50,-3.4v-5.6l-2.30,-2.2l-0.20,-3.1h-3.80l-1.50,-2.5l-1.50,2.5h-3.70l-0.30,2.9l-2.50,2.4v5.6l2.50,3.4zM1349.7,1202.7h6.60l2.10,-2.7l2.50,-3.4v-5.6l-2.30,-2.2l-0.20,-3.1h-3.80l-1.50,-2.5l-1.50,2.5h-3.70l-0.30,2.9l-2.50,2.4v5.6l2.50,3.4zM1355.4,1202.7h6.60l2.10,-2.7l2.50,-3.4v-5.6l-2.30,-2.2l-0.20,-3.1h-3.80l-1.50,-2.5l-1.50,2.5h-3.70l-0.30,2.9l-2.50,2.4v5.6l2.50,3.4zM1361.0,1202.7h6.60l2.10,-2.7l2.50,-3.4v-5.6l-2.30,-2.2l-0.20,-3.1h-3.80l-1.50,-2.5l-1.50,2.5h-3.70l-0.30,2.9l-2.50,2.4v5.6l2.50,3.4zM1366.7,1202.7h6.60l2.10,-2.7l2.50,-3.4v-5.6l-2.30,-2.2l-0.20,-3.1h-3.80l-1.50,-2.5l-1.50,2.5h-3.70l-0.30,2.9l-2.50,2.4v5.6l2.50,3.4zM1372.3,1202.7h6.60l2.10,-2.7l2.50,-3.4v-5.6l-2.30,-2.2l-0.20,-3.1h-3.80l-1.50,-2.5l-1.50,2.5h-3.70l-0.30,2.9l-2.50,2.4v5.6l2.50,3.4zM1378.0,1202.7h6.60l2.10,-2.7l2.50,-3.4v-5.6l-2.30,-2.2l-0.20,-3.1h-3.80l-1.50,-2.5l-1.50,2.5h-3.70l-0.30,2.9l-2.50,2.4v5.6l2.50,3.4zM1383.6,1202.7h6.60l2.10,-2.7l2.50,-3.4v-5.6l-2.30,-2.2l-0.20,-3.1h-3.80l-1.50,-2.5l-1.50,2.5h-3.70l-0.30,2.9l-2.50,2.4v5.6l2.50,3.4zM1389.3,1202.7h6.60l2.10,-2.7l2.50,-3.4v-5.6l-2.30,-2.2l-0.20,-3.1h-3.80l-1.50,-2.5l-1.50,2.5h-3.70l-0.30,2.9l-2.50,2.4v5.6l2.50,3.4zM1394.9,1202.7h6.60l2.10,-2.7l2.50,-3.4v-5.6l-2.30,-2.2l-0.20,-3.1h-3.80l-1.50,-2.5l-1.50,2.5h-3.70l-0.30,2.9l-2.50,2.4v5.6l2.50,3.4zM1400.6,1202.7h6.60l2.10,-2.7l2.50,-3.4v-5.6l-2.30,-2.2l-0.20,-3.1h-3.80l-1.50,-2.5l-1.50,2.5h-3.70l-0.30,2.9l-2.50,2.4v5.6l2.50,3.4zM1406.2,1202.7h6.60l2.10,-2.7l2.50,-3.4v-5.6l-2.30,-2.2l-0.20,-3.1h-3.80l-1.50,-2.5l-1.50,2.5h-3.70l-0.30,2.9l-2.50,2.4v5.6l2.50,3.4zM1410.1,1202.7h6.60l2.10,-2.7l2.50,-3.4v-5.6l-2.30,-2.2l-0.20,-3.1h-3.80l-1.50,-2.5l-1.50,2.5h-3.70l-0.30,2.9l-2.50,2.4v5.6l2.50,3.4zM1429.2,1202.7h6.60l2.10,-2.7l2.50,-3.4v-5.6l-2.30,-2.2l-0.20,-3.1h-3.80l-1.50,-2.5l-1.50,2.5h-3.70l-0.30,2.9l-2.50,2.4v5.6l2.50,3.4zM1434.7,1202.7h6.60l2.10,-2.7l2.50,-3.4v-5.6l-2.30,-2.2l-0.20,-3.1h-3.80l-1.50,-2.5l-1.50,2.5h-3.70l-0.30,2.9l-2.50,2.4v5.6l2.50,3.4zM1440.2,1202.7h6.60l2.10,-2.7l2.50,-3.4v-5.6l-2.30,-2.2l-0.20,-3.1h-3.80l-1.50,-2.5l-1.50,2.5h-3.70l-0.30,2.9l-2.50,2.4v5.6l2.50,3.4zM1445.7,1202.7h6.60l2.10,-2.7l2.50,-3.4v-5.6l-2.30,-2.2l-0.20,-3.1h-3.80l-1.50,-2.5l-1.50,2.5h-3.70l-0.30,2.9l-2.50,2.4v5.6l2.50,3.4zM1451.2,1202.7h6.60l2.10,-2.7l2.50,-3.4v-5.6l-2.30,-2.2l-0.20,-3.1h-3.80l-1.50,-2.5l-1.50,2.5h-3.70l-0.30,2.9l-2.50,2.4v5.6l2.50,3.4zM1456.7,1202.7h6.60l2.10,-2.7l2.50,-3.4v-5.6l-2.30,-2.2l-0.20,-3.1h-3.80l-1.50,-2.5l-1.50,2.5h-3.70l-0.30,2.9l-2.50,2.4v5.6l2.50,3.4zM1462.2,1202.7h6.60l2.10,-2.7l2.50,-3.4v-5.6l-2.30,-2.2l-0.20,-3.1h-3.80l-1.50,-2.5l-1.50,2.5h-3.70l-0.30,2.9l-2.50,2.4v5.6l2.50,3.4zM1467.7,1202.7h6.60l2.10,-2.7l2.50,-3.4v-5.6l-2.30,-2.2l-0.20,-3.1h-3.80l-1.50,-2.5l-1.50,2.5h-3.70l-0.30,2.9l-2.50,2.4v5.6l2.50,3.4zM1473.2,1202.7h6.60l2.10,-2.7l2.50,-3.4v-5.6l-2.30,-2.2l-0.20,-3.1h-3.80l-1.50,-2.5l-1.50,2.5h-3.70l-0.30,2.9l-2.50,2.4v5.6l2.50,3.4zM1478.7,1202.7h6.60l2.10,-2.7l2.50,-3.4v-5.6l-2.30,-2.2l-0.20,-3.1h-3.80l-1.50,-2.5l-1.50,2.5h-3.70l-0.30,2.9l-2.50,2.4v5.6l2.50,3.4zM1484.2,1202.7h6.60l2.10,-2.7l2.50,-3.4v-5.6l-2.30,-2.2l-0.20,-3.1h-3.80l-1.50,-2.5l-1.50,2.5h-3.70l-0.30,2.9l-2.50,2.4v5.6l2.50,3.4zM1489.7,1202.7h6.60l2.10,-2.7l2.50,-3.4v-5.6l-2.30,-2.2l-0.20,-3.1h-3.80l-1.50,-2.5l-1.50,2.5h-3.70l-0.30,2.9l-2.50,2.4v5.6l2.50,3.4zM1495.2,1202.7h6.60l2.10,-2.7l2.50,-3.4v-5.6l-2.30,-2.2l-0.20,-3.1h-3.80l-1.50,-2.5l-1.50,2.5h-3.70l-0.30,2.9l-2.50,2.4v5.6l2.50,3.4zM1540.2,1202.7h6.60l2.10,-2.7l2.50,-3.4v-5.6l-2.30,-2.2l-0.20,-3.1h-3.80l-1.50,-2.5l-1.50,2.5h-3.70l-0.30,2.9l-2.50,2.4v5.6l2.50,3.4zM1551.2,1202.7h6.60l2.10,-2.7l2.50,-3.4v-5.6l-2.30,-2.2l-0.20,-3.1h-3.80l-1.50,-2.5l-1.50,2.5h-3.70l-0.30,2.9l-2.50,2.4v5.6l2.50,3.4zM1562.2,1202.7h6.60l2.10,-2.7l2.50,-3.4v-5.6l-2.30,-2.2l-0.20,-3.1h-3.80l-1.50,-2.5l-1.50,2.5h-3.70l-0.30,2.9l-2.50,2.4v5.6l2.50,3.4zM1609.1,1202.7h6.60l2.10,-2.7l2.50,-3.4v-5.6l-2.30,-2.2l-0.20,-3.1h-3.80l-1.50,-2.5l-1.50,2.5h-3.70l-0.30,2.9l-2.50,2.4v5.6l2.50,3.4z" fill="#0054a6"/>
</svg>
<div class="h" style="left:15.5px;top:8.08px;font-size:37.0px;transform-origin:0 34.82px;transform:scaleY(1.03);">PROBLEM</div>
<div class="b" style="left:16px;top:67.32px;font-size:36.6px;transform-origin:0 34.68px;transform:scaleY(1.03);">A global financial services client wanted to determine if market level targets Ire improving or worsening the Bid Success Rate</div>
<div class="b" style="left:16px;top:111.52px;font-size:36.6px;transform-origin:0 34.68px;transform:scaleY(1.03);">(probability of winning or retaining existing clients).&nbsp; Each market had its own monthly trading patterns and suffered from</div>
<div class="b" style="left:16px;top:155.42px;font-size:36.6px;transform-origin:0 34.68px;transform:scaleY(1.03);">seasonality, noise, and distortions that would affect the predictability of our models.</div>
<div class="h" style="left:15.5px;top:227.38px;font-size:37.0px;transform-origin:0 34.82px;transform:scaleY(1.03);">METHOD</div>
<div class="b" style="left:16px;top:281.02px;font-size:36.6px;transform-origin:0 34.68px;transform:scaleY(1.03);">I built a polynomial regression to determine the influence of market level targets on Bid Success. I attempted multiple linear</div>
<div class="b" style="left:16px;top:324.62px;font-size:36.6px;transform-origin:0 34.68px;transform:scaleY(1.03);">and non-linear equations (cubic equation shown below) to identify the predictors, and there was evidence of a statistically</div>
<div class="b" style="left:16px;top:368.62px;font-size:36.6px;transform-origin:0 34.68px;transform:scaleY(1.03);">significant relationship (a strong predictive model should have a P value &lt;0.05 to show strength of predictability).</div>
<div class="h" style="left:15.5px;top:436.88px;font-size:37.0px;transform-origin:0 34.82px;transform:scaleY(1.03);">SOLUTION</div>
<div class="b" style="left:16px;top:501.22px;font-size:36.6px;transform-origin:0 34.68px;transform:scaleY(1.03);">Client has improved client acquisition rate by</div>
<div class="b" style="left:16px;top:544.92px;font-size:36.6px;transform-origin:0 34.68px;transform:scaleY(1.03);">+30% and client retention rate by +40%</div>
<div class="m" style="left:30.4px;top:647.31px;font-size:27.37px;transform-origin:0 23.79px;transform:scaleY(0.868);">The regression equation is</div>
<div class="m" style="left:30.4px;top:679.71px;font-size:27.37px;transform-origin:0 23.79px;transform:scaleY(0.868);">Success or Fail = 0.2550 + 0.05322 Target  -</div>
<div class="m" style="left:30.4px;top:712.91px;font-size:27.37px;transform-origin:0 23.79px;transform:scaleY(0.868);">0.002883 Target VCT^2 + 0.000045 Target VCT^3</div>
<div class="m" style="left:30.4px;top:812.51px;font-size:27.37px;transform-origin:0 23.79px;transform:scaleY(0.868);">Analysis of Variance</div>
<div class="m" style="left:30.4px;top:878.01px;font-size:27.37px;transform-origin:0 23.79px;transform:scaleY(0.868);">Source       DF       SS        MS     F      P</div>
<div class="m" style="left:30.4px;top:911.41px;font-size:27.37px;transform-origin:0 23.79px;transform:scaleY(0.868);">Regression    3    1.335  0.444997  1.79  0.049</div>
<div class="m" style="left:30.4px;top:944.41px;font-size:27.37px;transform-origin:0 23.79px;transform:scaleY(0.868);">Error       670  166.572  0.248614</div>
<div class="m" style="left:30.4px;top:977.11px;font-size:27.37px;transform-origin:0 23.79px;transform:scaleY(0.868);">Total       673  167.907</div>
<div class="m" style="left:30.4px;top:1076.31px;font-size:27.37px;transform-origin:0 23.79px;transform:scaleY(0.868);">Sequential Analysis of Variance</div>
<div class="m" style="left:30.4px;top:1142.01px;font-size:27.37px;transform-origin:0 23.79px;transform:scaleY(0.868);">Source     DF       SS     F      P</div>
<div class="m" style="left:30.4px;top:1174.91px;font-size:27.37px;transform-origin:0 23.79px;transform:scaleY(0.868);">Linear      1  0.15866  0.64  0.426</div>
<div class="m" style="left:30.4px;top:1207.81px;font-size:27.37px;transform-origin:0 23.79px;transform:scaleY(0.868);">Quadratic   1  1.01707  4.09  0.043</div>
<div class="m" style="left:30.4px;top:1240.91px;font-size:27.37px;transform-origin:0 23.79px;transform:scaleY(0.868);">Cubic       1  0.15926  0.64  0.424</div>
</body></html>
